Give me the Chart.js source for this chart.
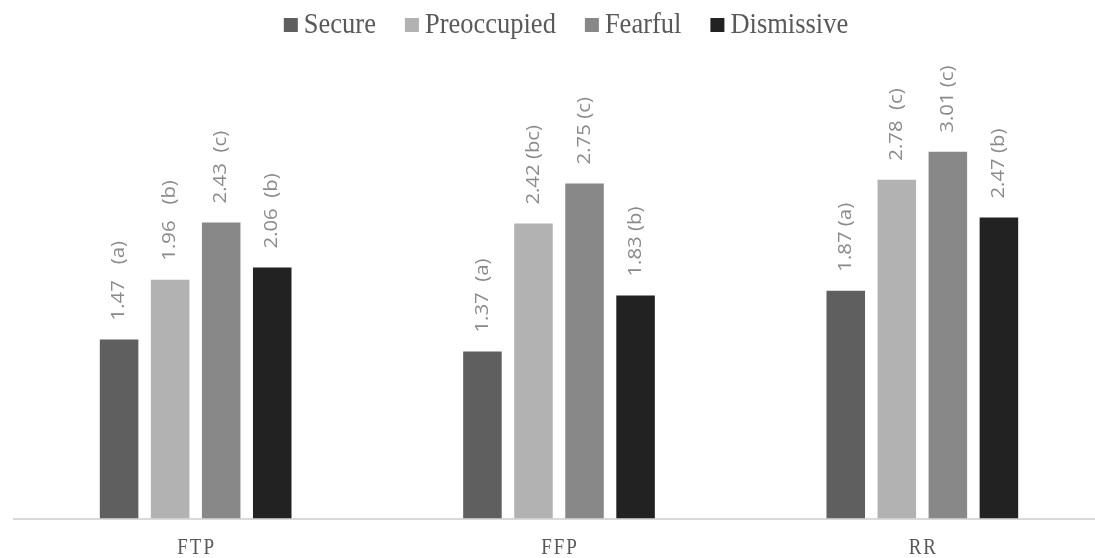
<!DOCTYPE html>
<html>
<head>
<meta charset="utf-8">
<script src="https://cdn.jsdelivr.net/npm/chart.js@4"></script>
<style>
  html, body { margin: 0; padding: 0; background: #ffffff; overflow: hidden; }
  #wrap { position: relative; width: 1104px; height: 558px; }
</style>
</head>
<body>
<div id="wrap"><canvas id="c" width="1104" height="558"></canvas></div>
<script>
// ---- data ----
const categories = ["FTP", "FFP", "RR"];
const seriesNames = ["Secure", "Preoccupied", "Fearful", "Dismissive"];
const secureValues = [1.47, 1.37, 1.87];
const preoccupiedValues = [1.96, 2.42, 2.78];
const fearfulValues = [2.43, 2.75, 3.01];
const dismissiveValues = [2.06, 1.83, 2.47];
const secureSig = ["   (a)", "  (a)", " (a)"];
const preoccupiedSig = ["   (b)", " (bc)", "  (c)"];
const fearfulSig = ["  (c)", " (c)", " (c)"];
const dismissiveSig = ["  (b)", " (b)", " (b)"];
const seriesColors = ["#5f5f5f", "#b2b2b2", "#888888", "#222222"];

const valueSets = [secureValues, preoccupiedValues, fearfulValues, dismissiveValues];
const sigSets = [secureSig, preoccupiedSig, fearfulSig, dismissiveSig];

const datasets = seriesNames.map((name, i) => ({
  label: name,
  data: valueSets[i],
  backgroundColor: seriesColors[i],
  borderWidth: 0,
  categoryPercentage: 0.562,
  barPercentage: 0.755
}));

const VSTRETCH = 1.13;

// category labels drawn at the x scale's own tick positions, vertically stretched
const xLabels = {
  id: 'xLabels',
  afterDraw(chart) {
    const ctx = chart.ctx;
    const xs = chart.scales.x;
    ctx.save();
    ctx.letterSpacing = '2px';
    ctx.font = '19px "Liberation Serif"';
    ctx.fillStyle = '#595959';
    ctx.textAlign = 'center';
    ctx.textBaseline = 'alphabetic';
    chart.data.labels.forEach((lab, i) => {
      const px = xs.getPixelForTick(i);
      ctx.save();
      ctx.translate(px + 1, 554);
      ctx.scale(1, 1.22);
      ctx.fillText(lab, 0, 0);
      ctx.restore();
    });
    ctx.restore();
  }
};

const barLabels = {
  id: 'barLabels',
  afterDatasetsDraw(chart) {
    const ctx = chart.ctx;
    chart.data.datasets.forEach((ds, di) => {
      const meta = chart.getDatasetMeta(di);
      meta.data.forEach((el, i) => {
        const txt = ds.data[i].toFixed(2) + sigSets[di][i];
        ctx.save();
        ctx.translate(el.x, el.y - 19);
        ctx.scale(1, VSTRETCH);
        ctx.rotate(-Math.PI / 2);
        ctx.font = '18px "Open Sans"';
        ctx.fillStyle = '#8a8a8a';
        ctx.textAlign = 'left';
        ctx.textBaseline = 'middle';
        ctx.fillText(txt, 0, 0);
        ctx.restore();
      });
    });
  }
};

const customLegend = {
  id: 'customLegend',
  afterDraw(chart) {
    const ctx = chart.ctx;
    ctx.save();
    ctx.font = '26.5px "Liberation Serif"';
    const box = 14, boxGap = 6, itemGap = 29;
    const widths = chart.data.datasets.map(d => ctx.measureText(d.label).width);
    let total = 0;
    widths.forEach((w, i) => { total += box + boxGap + w + (i ? itemGap : 0); });
    let x = 566 - total / 2;
    chart.data.datasets.forEach((d, i) => {
      ctx.fillStyle = d.backgroundColor;
      ctx.fillRect(x, 18, box, box);
      x += box + boxGap;
      ctx.save();
      ctx.translate(x, 33);
      ctx.scale(1, 1.14);
      ctx.fillStyle = '#595959';
      ctx.textAlign = 'left';
      ctx.textBaseline = 'alphabetic';
      ctx.fillText(d.label, 0, 0);
      ctx.restore();
      x += widths[i] + itemGap;
    });
    ctx.restore();
  }
};

new Chart(document.getElementById('c'), {
  type: 'bar',
  data: { labels: categories, datasets },
  options: {
    responsive: false,
    animation: false,
    devicePixelRatio: 1,
    layout: { padding: { left: 14, right: 0, top: 31, bottom: -21 } },
    plugins: {
      legend: { display: false },
      tooltip: { enabled: false }
    },
    scales: {
      x: {
        grid: { display: false, drawTicks: false },
        border: { display: true, color: '#d9d9d9', width: 2 },
        ticks: {
          padding: 20,
          color: 'rgba(0,0,0,0)',
          font: { family: '"Liberation Serif"', size: 17 }
        }
      },
      y: {
        display: false,
        min: 0,
        max: 4
      }
    }
  },
  plugins: [barLabels, xLabels, customLegend]
});
</script>
</body>
</html>
